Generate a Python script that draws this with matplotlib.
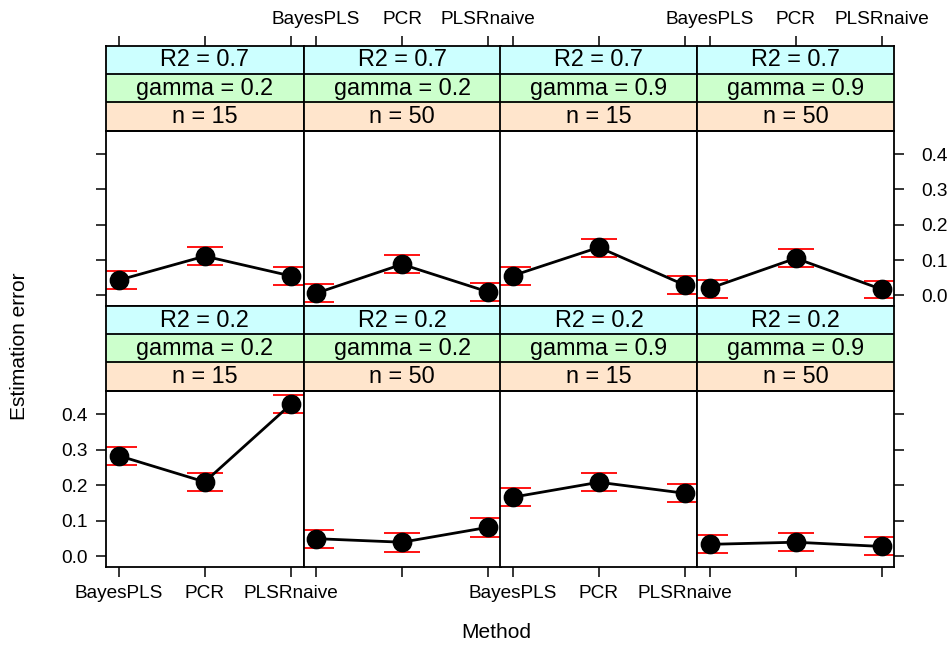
import matplotlib
matplotlib.use('Agg')
import matplotlib.pyplot as plt
import numpy as np

plt.rcParams['font.family'] = ['Liberation Sans', 'DejaVu Sans']

methods = ['BayesPLS', 'PCR', 'PLSRnaive']

# conditioning variables, panel order: top row left->right, then bottom row
r2_levels = ['0.7', '0.7', '0.7', '0.7', '0.2', '0.2', '0.2', '0.2']
gamma_levels = ['0.2', '0.2', '0.9', '0.9', '0.2', '0.2', '0.9', '0.9']
n_levels = ['15', '50', '15', '50', '15', '50', '15', '50']

# mean estimation error per method, with interval limits
est = [
    [0.043, 0.111, 0.055],
    [0.006, 0.088, 0.010],
    [0.056, 0.136, 0.029],
    [0.020, 0.105, 0.017],
    [0.283, 0.209, 0.428],
    [0.049, 0.039, 0.081],
    [0.166, 0.208, 0.177],
    [0.033, 0.039, 0.027],
]
upper = [
    [0.069, 0.136, 0.081],
    [0.031, 0.115, 0.036],
    [0.081, 0.160, 0.054],
    [0.044, 0.131, 0.041],
    [0.308, 0.235, 0.454],
    [0.074, 0.064, 0.106],
    [0.191, 0.234, 0.204],
    [0.058, 0.066, 0.053],
]
lower = [
    [0.018, 0.085, 0.030],
    [-0.020, 0.064, -0.015],
    [0.030, 0.109, 0.003],
    [-0.007, 0.080, -0.008],
    [0.257, 0.184, 0.403],
    [0.023, 0.012, 0.055],
    [0.140, 0.183, 0.152],
    [0.008, 0.014, 0.002],
]

yticks = [0.0, 0.1, 0.2, 0.3, 0.4]
strip_cols = ['#ffe5cc', '#ccffcc', '#ccffff']  # n, gamma, R2 (bottom to top)

W, H = 951, 649
fig = plt.figure(figsize=(W / 100, H / 100), dpi=100)

col_x = [106, 303.5, 500.5, 697.3, 894.3]
rows = [(45.7, 130.7, 306.0), (306.0, 390.7, 566.7)]  # strip top, panel top, panel bottom

xlim = (0.855, 3.145)
ylim = (-0.030, 0.466)
x = np.arange(1, 4)
tick_len = 7.5
lab_fs = 13.7
frame_lw = 1.3

def fx(px):
    return px / W

def fy(py):
    return 1 - py / H

for i in range(8):
    r, c = divmod(i, 4)
    s_top, p_top, p_bot = rows[r]
    x0, x1 = col_x[c], col_x[c + 1]

    ax = fig.add_axes([fx(x0), fy(p_bot), fx(x1 - x0), fy(p_top) - fy(p_bot)])
    ax.set_xlim(*xlim)
    ax.set_ylim(*ylim)
    for sp in ax.spines.values():
        sp.set_linewidth(frame_lw)

    ax.hlines(upper[i], x - 0.21, x + 0.21, color='red', lw=1.3, zorder=2)
    ax.hlines(lower[i], x - 0.21, x + 0.21, color='red', lw=1.3, zorder=2)
    ax.plot(x, est[i], color='black', lw=2.0, zorder=3)
    ax.plot(x, est[i], 'o', color='black', ms=13.2, zorder=4)

    # x axis: bottom row gets ticks below the panel
    if r == 1:
        ax.set_xticks(x)
        ax.set_xticklabels(methods if c in (0, 2) else [''] * 3)
        ax.tick_params(axis='x', direction='out', length=tick_len, width=1.1,
                       pad=6, labelsize=lab_fs)
    else:
        ax.set_xticks([])

    # y axis: left ticks on first column, right ticks on last column
    ax.set_yticks(yticks)
    ax.set_yticklabels([f'{v:.1f}' for v in yticks])
    ax.tick_params(axis='y', direction='out', length=tick_len, width=1.1,
                   labelsize=lab_fs, left=(c == 0), right=(c == 3),
                   labelleft=(c == 0 and r == 1),
                   labelright=(c == 3 and r == 0), pad=6)
    if c == 3 and r == 0:
        ax.tick_params(axis='y', pad=12)

    # strips above each panel
    sax = fig.add_axes([fx(x0), fy(p_top), fx(x1 - x0), fy(s_top) - fy(p_top)])
    sax.set_xlim(*xlim)
    sax.set_ylim(0, 3)
    labels = [f'n = {n_levels[i]}', f'gamma = {gamma_levels[i]}',
              f'R2 = {r2_levels[i]}']
    for k in range(3):
        sax.axhspan(k, k + 1, color=strip_cols[k], zorder=0)
        sax.axhline(k, color='black', lw=frame_lw, zorder=1)
        sax.text(np.mean(xlim), k + 0.5, labels[k], ha='center', va='center',
                 fontsize=16.8)
    for sp in sax.spines.values():
        sp.set_linewidth(frame_lw)
    sax.set_yticks([])
    if r == 0:
        sax.set_xticks(x)
        sax.set_xticklabels(methods if c in (1, 3) else [''] * 3)
        sax.tick_params(axis='x', direction='out', length=tick_len, width=1.1,
                        top=True, bottom=False, labeltop=True,
                        labelbottom=False, pad=5, labelsize=lab_fs)
    else:
        sax.set_xticks([])

fig.text(fx(496), fy(633), 'Method', ha='center', va='center', fontsize=15)
fig.text(fx(20), fy(346.5), 'Estimation error', ha='center', va='center',
         rotation=90, fontsize=15)

fig.savefig('out.png', dpi=100)
